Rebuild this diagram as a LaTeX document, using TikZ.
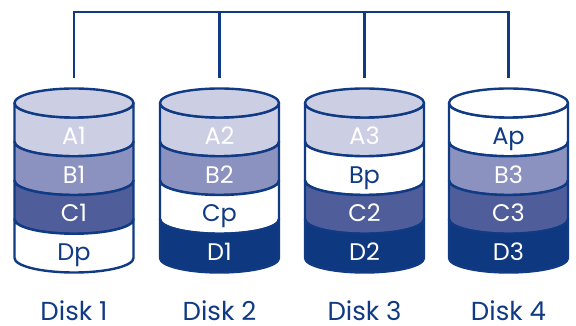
\documentclass[tikz,border=0pt]{standalone}
\usepackage{fontspec}
\setmainfont{Poppins}
\definecolor{rline}{RGB}{16,58,132}
\definecolor{rA}{RGB}{204,207,228}
\definecolor{rB}{RGB}{139,146,191}
\definecolor{rC}{RGB}{79,93,155}
\definecolor{rD}{RGB}{14,56,128}
\tikzset{
  rdisk/.style={draw=rline,line width=2.4pt,line join=round},
  seglabel/.style={anchor=base,font=\fontsize{24}{24}\selectfont},
  disklabel/.style={anchor=base,inner sep=0pt,text=rline,font=\fontsize{26}{26}\selectfont},
  bus/.style={draw=rline,line width=2.4pt}
}
% one band of a disk: x, top y, fill, text colour, name, label
\newcommand{\dseg}[6]{%
  \path[rdisk,fill=#3] (#1-59.5,#2) arc[start angle=180,end angle=360,x radius=59.5,y radius=14.5]
    -- (#1+59.5,#2-38.75) arc[start angle=0,end angle=-180,x radius=59.5,y radius=14.5] -- cycle;
  \node[seglabel,text=#4] (#5) at (#1,#2-41.5) {#6};}
\newcommand{\dtop}[2]{%
  \path[rdisk,fill=#2] (#1,223) ellipse[x radius=59.5,y radius=14.5];}

\begin{document}
\begin{tikzpicture}[x=1pt,y=1pt]
  \useasboundingbox (0,0) rectangle (576,326);
  % disk 1
  \dseg{74}{223}{rA}{white}{A1}{A1}
  \dseg{74}{184.25}{rB}{white}{B1}{B1}
  \dseg{74}{145.5}{rC}{white}{C1}{C1}
  \dseg{74}{106.75}{white}{rline}{Dp}{Dp}
  \dtop{74}{rA}
  % disk 2
  \dseg{219.5}{223}{rA}{white}{A2}{A2}
  \dseg{219.5}{184.25}{rB}{white}{B2}{B2}
  \dseg{219.5}{145.5}{white}{rline}{Cp}{Cp}
  \dseg{219.5}{106.75}{rD}{white}{D1}{D1}
  \dtop{219.5}{rA}
  % disk 3
  \dseg{364.5}{223}{rA}{white}{A3}{A3}
  \dseg{364.5}{184.25}{white}{rline}{Bp}{Bp}
  \dseg{364.5}{145.5}{rC}{white}{C2}{C2}
  \dseg{364.5}{106.75}{rD}{white}{D2}{D2}
  \dtop{364.5}{rA}
  % disk 4
  \dseg{508.5}{223}{white}{rline}{Ap}{Ap}
  \dseg{508.5}{184.25}{rB}{white}{B3}{B3}
  \dseg{508.5}{145.5}{rC}{white}{C3}{C3}
  \dseg{508.5}{106.75}{rD}{white}{D3}{D3}
  \dtop{508.5}{white}

  \node[disklabel] (disk1) at (74,5.5) {Disk 1};
  \node[disklabel] (disk2) at (219.5,5.5) {Disk 2};
  \node[disklabel] (disk3) at (364.5,5.5) {Disk 3};
  \node[disklabel] (disk4) at (508.5,5.5) {Disk 4};

  \coordinate (t1) at (74,248);
  \coordinate (t2) at (219.5,248);
  \coordinate (t3) at (364.5,248);
  \coordinate (t4) at (508.5,248);
  \coordinate (b1) at (74,314);
  \coordinate (b2) at (219.5,314);
  \coordinate (b3) at (364.5,314);
  \coordinate (b4) at (508.5,314);
  \path[bus] (t1) -- (b1) -- (b4) -- (t4);
  \path[bus] (t2) -- (b2);
  \path[bus] (t3) -- (b3);
\end{tikzpicture}
\end{document}
